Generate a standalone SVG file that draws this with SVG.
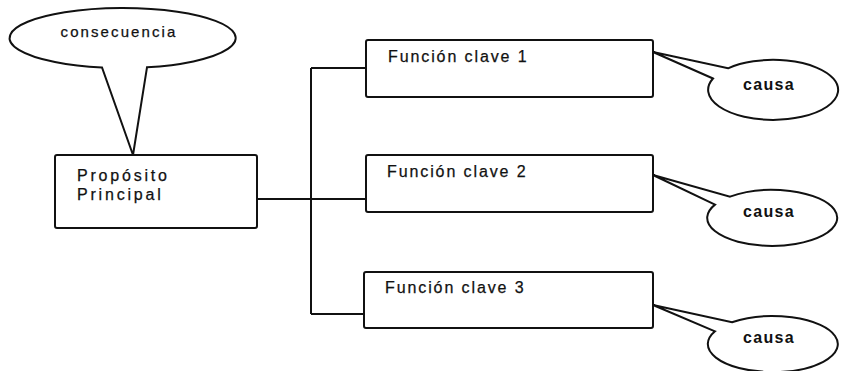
<svg xmlns="http://www.w3.org/2000/svg" width="852" height="371" viewBox="0 0 852 371">
  <style>
    .box { fill: #fff; stroke: #111; stroke-width: 2; }
    .bubble { fill: #fff; stroke: #111; stroke-width: 2; stroke-linejoin: miter; }
    .link { fill: none; stroke: #111; stroke-width: 2; }
    .label { font-family: "Liberation Sans", Arial, sans-serif; font-size: 16px; fill: #111; stroke: #111; stroke-width: 0.25; }
    .cause { font-family: "Liberation Sans", Arial, sans-serif; font-size: 16px; font-weight: bold; fill: #111; letter-spacing: 1.3px; }
  </style>
  <rect width="852" height="371" fill="#fff"/>

  <!-- tree connectors -->
  <g id="connectors">
    <path class="link" d="M257 199 H366"/>
    <path class="link" d="M311 68 V314"/>
    <path class="link" d="M311 68 H366"/>
    <path class="link" d="M311 314 H364"/>
  </g>

  <!-- consequence callout pointing at the main purpose -->
  <g id="consecuencia">
    <path class="bubble" d="M147 67.3 L133 155 L102 67.5 A113 30 0 1 1 147 67.3 Z"/>
    <text class="label" x="119" y="37" text-anchor="middle" style="font-size:15px;letter-spacing:2.1px">consecuencia</text>
  </g>

  <g id="proposito">
    <rect class="box" x="55" y="155" width="202" height="73" rx="2"/>
    <text class="label" x="77" y="180.5" style="letter-spacing:2.8px">Propósito</text>
    <text class="label" x="77" y="200" style="letter-spacing:2.8px">Principal</text>
  </g>

  <g id="funcion1">
    <rect class="box" x="366" y="40" width="287" height="57" rx="2"/>
    <text class="label" x="388" y="62" style="letter-spacing:1.9px">Función clave 1</text>
  </g>

  <g id="funcion2">
    <rect class="box" x="366" y="155" width="287" height="57" rx="2"/>
    <text class="label" x="387" y="176.5" style="letter-spacing:1.9px">Función clave 2</text>
  </g>

  <g id="funcion3">
    <rect class="box" x="364" y="272" width="289" height="56" rx="2"/>
    <text class="label" x="385" y="293" style="letter-spacing:1.9px">Función clave 3</text>
  </g>

  <!-- cause callouts attached to each key function -->
  <g id="causa1">
    <path class="bubble" d="M713 78.5 L653 52 L728 68.3 A65 30 0 1 1 713 78.5 Z"/>
    <text class="cause" x="769" y="90" text-anchor="middle">causa</text>
  </g>

  <g id="causa2">
    <path class="bubble" d="M715 204.6 L653 175 L730 196.6 A65 28 0 1 1 715 204.6 Z"/>
    <text class="cause" x="769" y="217" text-anchor="middle">causa</text>
  </g>

  <g id="causa3">
    <path class="bubble" d="M715 331.3 L653 305 L732 322.3 A65 28 0 1 1 715 331.3 Z"/>
    <text class="cause" x="769" y="343" text-anchor="middle">causa</text>
  </g>
</svg>
